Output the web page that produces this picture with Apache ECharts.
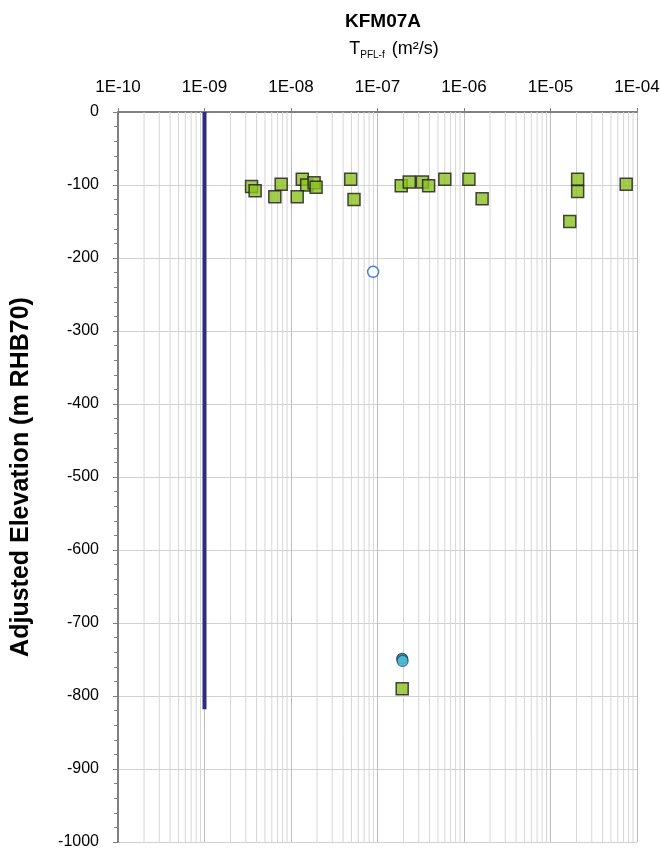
<!DOCTYPE html>
<html><head><meta charset="utf-8">
<script src="https://cdn.jsdelivr.net/npm/echarts@6/dist/echarts.min.js"></script>
<style>html,body{margin:0;padding:0;background:#fff}#c{width:660px;height:849px}</style>
</head><body><div id="c"></div>
<script>
// Green squares: transmissivity (m2/s) and adjusted elevation (m RHB70)
const squareT = [3.5e-9, 3.85e-9, 7.7e-9, 6.5e-9, 1.35e-8, 1.52e-8, 1.85e-8, 1.95e-8, 1.18e-8, 4.9e-8, 5.35e-8,
  1.88e-7, 2.33e-7, 3.3e-7, 3.9e-7, 6.0e-7, 1.14e-6, 1.62e-6, 2.06e-5, 2.06e-5, 1.67e-5, 7.5e-5, 1.93e-7];
const squareElev = [-102, -108, -99, -116, -92, -100, -97, -103, -116, -92, -120,
  -101, -96, -96, -101, -92, -92, -119, -92, -109, -150, -99, -790];
// Open circle
const openT = [8.9e-8];
const openElev = [-219];
// Filled circles
const darkT = [1.93e-7];
const darkElev = [-749];
const cyanT = [1.95e-7];
const cyanElev = [-752];
// Lower measurement limit line
const limitT = [1e-9, 1e-9];
const limitElev = [0, -818];
// Minor log gridline positions (2..9 x each decade)
const minorGrid = [];
for (let e = -10; e < -4; e++) for (let m = 2; m <= 9; m++) minorGrid.push(m * Math.pow(10, e));
const yMin = -1000, yMax = 0;

const pairs = (a, b) => a.map((v, i) => [v, b[i]]);
const chart = echarts.init(document.getElementById('c'));
const F = 'Liberation Sans, Arial, sans-serif';
const gridSeries = minorGrid.map(v => ({
  type: 'line', data: [[v, yMax], [v, yMin]], symbol: 'none', silent: true, z: 1,
  lineStyle: {color: '#d6d6d6', width: 1}, animation: false
}));
chart.setOption({
  animation: false,
  backgroundColor: '#fff',
  title: [{
    text: 'KFM07A', left: 378, top: 7, textAlign: 'center',
    textStyle: {fontFamily: F, fontSize: 19, fontWeight: 'bold', color: '#000'}
  }, {
    text: 'T{s|PFL-f} (m²/s)', left: 389, top: 34, textAlign: 'center',
    textStyle: {fontFamily: F, fontSize: 18, fontWeight: 'normal', color: '#000',
      rich: {s: {fontSize: 10, fontFamily: F, verticalAlign: 'bottom', padding: [11, 2, 0, 0]}}}
  }],
  grid: {left: 118, right: 23, top: 112, bottom: 7, containLabel: false, outerBoundsMode: 'none'},
  xAxis: {
    type: 'log', logBase: 10, min: 1e-10, max: 1e-4, position: 'top',
    axisLine: {show: true, lineStyle: {color: '#808080', width: 2}},
    axisTick: {show: true, inside: false, length: 4, lineStyle: {color: '#808080'}},
    axisLabel: {fontFamily: F, fontSize: 17, color: '#000', margin: 16,
      formatter: v => '1E-' + String(-Math.round(Math.log10(v))).padStart(2, '0')},
    splitLine: {show: true, lineStyle: {color: '#bdbdbd', width: 1}}
  },
  yAxis: {
    type: 'value', min: yMin, max: yMax, interval: 100,
    name: 'Adjusted Elevation (m RHB70)', nameLocation: 'middle', nameGap: 84, nameRotate: 90,
    nameTextStyle: {fontFamily: F, fontSize: 25, fontWeight: 'bold', color: '#000'},
    axisLine: {show: true, onZero: false, lineStyle: {color: '#808080', width: 2}},
    axisTick: {show: true, length: 5, lineStyle: {color: '#808080'}},
    minorTick: {show: true, splitNumber: 5, length: 4, lineStyle: {color: '#808080'}},
    axisLabel: {fontFamily: F, fontSize: 16, color: '#000', margin: 19,
      formatter: v => String(v)},
    splitLine: {show: true, lineStyle: {color: '#d0d0d0', width: 1}}
  },
  series: gridSeries.concat([{
    type: 'line', data: pairs(limitT, limitElev), symbol: 'none', z: 3,
    lineStyle: {color: '#2b2a85', width: 4}
  }, {
    type: 'scatter', data: pairs(openT, openElev), symbol: 'circle', symbolSize: 11, z: 4,
    itemStyle: {color: '#ffffff', borderColor: '#1f5fbf', borderWidth: 1.5}
  }, {
    type: 'scatter', data: pairs(squareT, squareElev), symbol: 'rect', symbolSize: 12, z: 5,
    itemStyle: {color: '#8dc021', borderColor: '#1a1a1a', borderWidth: 1.5}
  }, {
    type: 'scatter', data: pairs(darkT, darkElev), symbol: 'circle', symbolSize: 11, z: 6,
    itemStyle: {color: '#1f6f86', borderColor: '#1a2a3a', borderWidth: 1.2}
  }, {
    type: 'scatter', data: pairs(cyanT, cyanElev), symbol: 'circle', symbolSize: 11, z: 7,
    itemStyle: {color: '#4cc4de', borderColor: '#1f4e79', borderWidth: 1.2}
  }])
});
</script></body></html>
